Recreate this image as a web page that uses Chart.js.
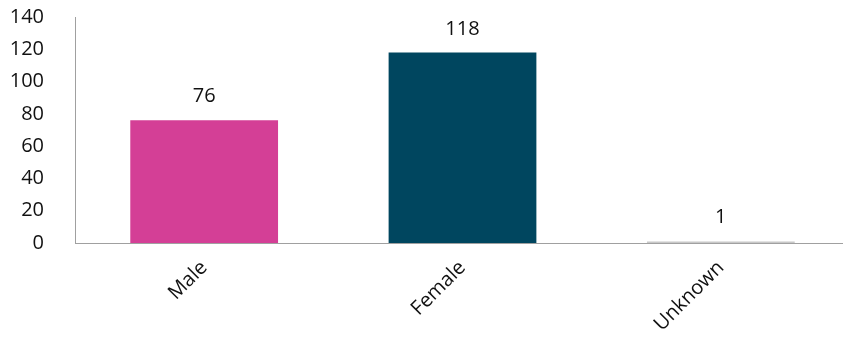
<!DOCTYPE html>
<html>
<head>
<meta charset="utf-8">
<script src="https://cdn.jsdelivr.net/npm/chart.js@4/dist/chart.umd.min.js"></script>
<style>
	html, body { margin: 0; padding: 0; background: #fff; overflow: hidden; }
	#wrap { width: 850px; height: 341px; position: relative; }
</style>
</head>
<body>
<div id="wrap"><canvas id="chart"></canvas></div>
<script>
const kCategories = ["Male", "Female", "Unknown"];
const kCounts = [76, 118, 1];
const kColours = ["#d43f96", "#00465f", "#c8c8c8"];
const kYTicks = [0, 20, 40, 60, 80, 100, 120, 140];

const kFont = "'Open Sans', 'DejaVu Sans', sans-serif";

// draws the value above each bar
const valueLabels = {
	id: "valueLabels",
	afterDatasetsDraw(chart) {
		const ctx = chart.ctx;
		const meta = chart.getDatasetMeta(0);
		ctx.save();
		ctx.font = `20px ${kFont}`;
		ctx.fillStyle = "#111";
		ctx.textAlign = "center";
		ctx.textBaseline = "alphabetic";
		meta.data.forEach((bar, i) => {
			ctx.fillText(String(kCounts[i]), bar.x, bar.y - 18);
		});
		ctx.restore();
	}
};

new Chart(document.getElementById("chart").getContext("2d"), {
	type: "bar",
	data: {
		labels: kCategories,
		datasets: [{
			data: kCounts,
			backgroundColor: kColours,
			barPercentage: 0.572,
			categoryPercentage: 1
		}]
	},
	options: {
		responsive: true,
		maintainAspectRatio: false,
		animation: false,
		layout: {padding: {top: 17, right: 0, left: 0, bottom: 0}},
		plugins: {legend: {display: false}, tooltip: {enabled: false}},
		scales: {
			y: {
				min: 0,
				max: 140,
				afterFit: (scale) => {
					scale.width = 75;
					scale.paddingTop = 0;
					scale.paddingBottom = 0;
				},
				afterBuildTicks: (scale) => { scale.ticks = kYTicks.map(v => ({value: v})); },
				grid: {display: false},
				border: {display: true, color: "#a0a0a0", width: 1},
				ticks: {
					padding: 23,
					color: "#111",
					font: {family: kFont, size: 20}
				}
			},
			x: {
				afterFit: (scale) => {
					scale.height = 98;
					scale.paddingLeft = 0;
					scale.paddingRight = 0;
				},
				grid: {display: false},
				border: {display: true, color: "#a0a0a0", width: 1},
				ticks: {
					minRotation: 45,
					maxRotation: 45,
					padding: 5,
					color: "#111",
					font: {family: kFont, size: 20}
				}
			}
		}
	},
	plugins: [valueLabels]
});
</script>
</body>
</html>
